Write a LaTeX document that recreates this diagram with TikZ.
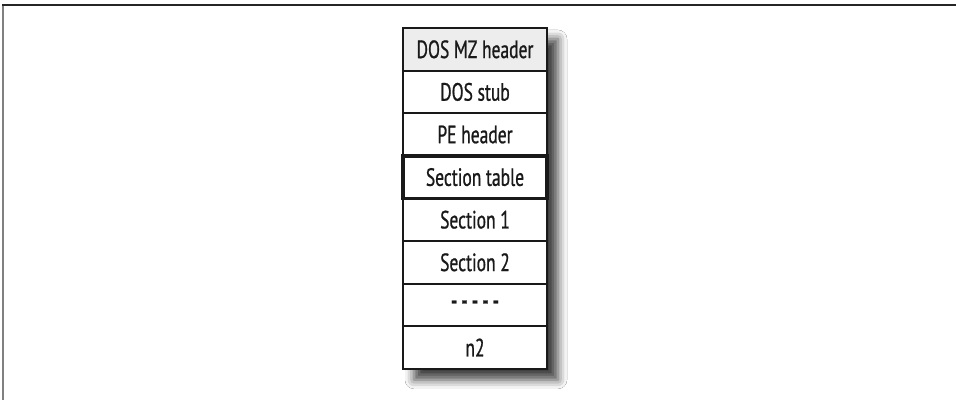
\documentclass[tikz,border=0pt]{standalone}
\usepackage{fontspec}
\setmainfont{PT Sans}[FakeStretch=0.7,FakeBold=0.8]
\usetikzlibrary{positioning,fit,backgrounds,shadows.blur}

\tikzset{
  cell/.style={draw=black!90,line width=2pt,fill=white,outer sep=0pt,
    minimum width=144pt,minimum height=42.6pt,inner sep=0pt,
    font=\fontsize{25}{28}\selectfont,text=black!90},
  hdrcell/.style={cell,fill=black!7},
}

\begin{document}
\begin{tikzpicture}[x=1pt,y=1pt]
\useasboundingbox (0,0) rectangle (956,400);
% page frame
\draw[line width=2pt,black!50] (3,395) -- (3,0);
\draw[line width=1.6pt,black!85] (2,395) -- (956,395);
% stack of file parts
\node[hdrcell] (mz) at (475,350.7) {DOS MZ header};
\node[cell,below=0pt of mz] (stub) {DOS stub};
\node[cell,below=0pt of stub] (pe) {PE header};
\node[cell,below=0pt of pe] (sectab) {Section table};
\node[cell,below=0pt of sectab] (sec1) {Section 1};
\node[cell,below=0pt of sec1] (sec2) {Section 2};
\node[cell,below=0pt of sec2] (more) {\bfseries -\,-\,-\,-\,-};
\node[cell,below=0pt of more] (n2) {n2};
% white page and shadow behind the stack
\begin{scope}[on background layer]
\fill[white] (0,0) rectangle (956,400);
\node[fit=(mz)(n2),inner sep=0pt,fill=white,
  blur shadow={shadow xshift=11pt,shadow yshift=-11pt,
    shadow blur radius=9pt,shadow opacity=75}] (stack) {};
\end{scope}
\draw[line width=3.4pt,black!90] (sectab.south west) rectangle (sectab.north east);
\end{tikzpicture}
\end{document}
